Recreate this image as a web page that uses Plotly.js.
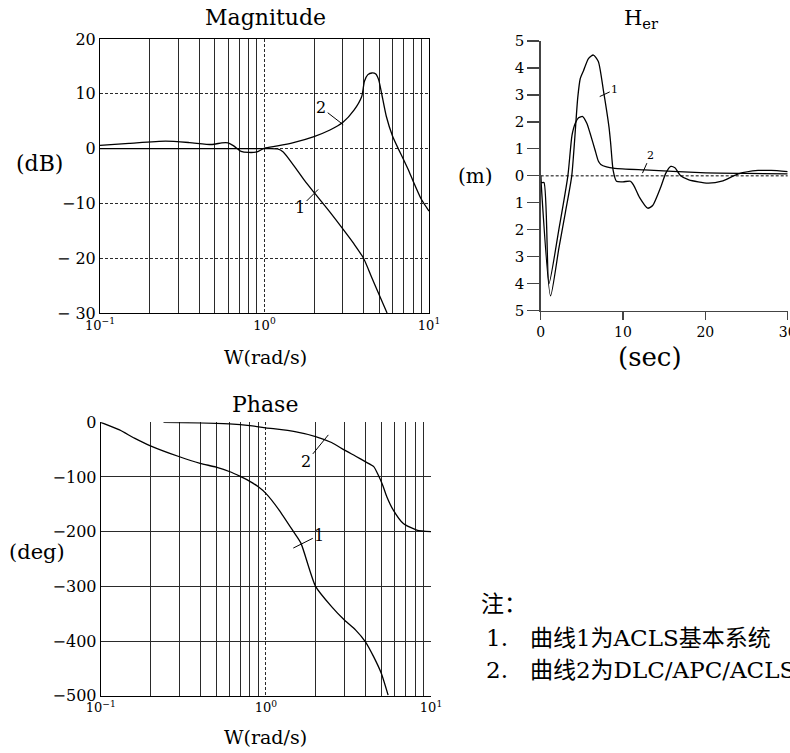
<!DOCTYPE html>
<html>
<head>
<meta charset="utf-8">
<script src="https://cdn.plot.ly/plotly-3.0.1.min.js"></script>
<style>html,body{margin:0;padding:0;background:#fff;}#chart{width:790px;height:753px;}</style>
</head>
<body>
<div id="chart"></div>
<script>
// ---------- Magnitude (dB) ----------
const magW1 = [0.1, 0.3, 0.6, 1.0, 1.2, 1.3, 1.5, 1.75, 2.0, 2.5, 3.0, 3.5, 4.0, 4.5, 5.0, 5.56];
const magDb1 = [0, 0, 0, 0, -0.05, -0.6, -3.0, -5.8, -8.0, -11.6, -14.7, -17.4, -20.0, -23.6, -26.8, -30.0];
const magW2 = [0.1, 0.15, 0.25, 0.35, 0.48, 0.55, 0.6, 0.65, 0.72, 0.8, 0.9, 1.0, 1.2, 1.5, 2.0, 2.5, 3.0, 3.5, 3.9, 4.05, 4.25, 4.5, 4.75, 4.95, 5.15, 5.5, 6.0, 6.5, 7.0, 7.6, 8.0, 9.0, 10.0];
const magDb2 = [0.6, 0.95, 1.35, 1.1, 0.75, 1.05, 1.05, 0.5, -0.5, -0.7, -0.6, 0.1, 0.5, 1.1, 2.2, 3.4, 4.8, 7.0, 9.5, 12.3, 13.5, 13.8, 13.6, 12.5, 10.1, 5.9, 2.3, 0.0, -2.0, -4.3, -5.9, -9.3, -11.4];

// ---------- Phase (deg) ----------
const phW1 = [0.1, 0.13, 0.16, 0.2, 0.3, 0.4, 0.5, 0.6, 0.7, 0.8, 0.9, 1.0, 1.2, 1.47, 1.63, 2.0, 2.5, 3.0, 3.5, 4.0, 4.5, 5.0, 5.5];
const phDeg1 = [0, -14, -29, -43, -63, -75, -82, -90, -99, -108, -118, -130, -160, -200, -221, -300, -337, -362, -380, -401, -429, -459, -499];
const phW2 = [0.24, 0.4, 0.6, 0.8, 1.0, 1.5, 2.0, 2.5, 3.0, 3.5, 4.0, 4.5, 4.8, 5.1, 5.4, 5.9, 6.8, 8.2, 10.0];
const phDeg2 = [0, -1, -3, -6, -10, -17, -26, -37, -51, -62, -72, -81, -97, -115, -136, -160, -185, -197, -200];

// ---------- H_er (m) vs time (sec) ----------
const herT1 = [0, 1.2, 2.2, 3.0, 3.77, 4.5, 4.8, 5.2, 5.8, 6.4, 7.0, 7.6, 8.3, 8.5, 8.8, 9.2, 10.0, 10.9, 11.3, 12.0, 13.0, 13.6, 14.6, 15.2, 15.8, 16.3, 17.0, 18.0, 20.3, 22.0, 24.0, 26.4, 28.0, 30.0];
const herY1 = [0, -4.45, -2.7, -1.35, 0, 2.9, 3.6, 3.9, 4.35, 4.48, 4.24, 3.2, 1.8, 1.2, 0.2, -0.2, -0.22, -0.2, -0.35, -0.8, -1.2, -1.1, -0.4, 0.1, 0.35, 0.3, 0, -0.15, -0.27, -0.2, 0.07, 0.2, 0.2, 0.16];
const herT2 = [0, 0.05, 0.4, 1.0, 2.2, 3.3, 3.8, 4.2, 4.6, 5.1, 5.6, 6.0, 6.6, 7.0, 7.3, 8.0, 9.0, 12.6, 19.4, 25.0, 30.0];
const herY2 = [0, -0.25, -0.25, -4.0, -2.0, 0, 1.5, 1.95, 2.15, 2.2, 1.95, 1.58, 0.96, 0.55, 0.42, 0.33, 0.28, 0.22, 0.12, 0.09, 0.07];

// ---------- tick labels ----------
const logTickVals = [0.1, 1, 10];
const logTickText = ['10<sup>\u22121</sup>', '10<sup>0</sup>', '10<sup>1</sup>'];
const logMinorVals = [0.2, 0.3, 0.4, 0.5, 0.6, 0.7, 0.8, 0.9, 2, 3, 4, 5, 6, 7, 8, 9];
const magTickVals = [-30, -20, -10, 0, 10, 20];
const magTickText = ['\u2212 30', '\u2212 20', '\u221210', '0', '10', '20'];
const phTickVals = [-500, -400, -300, -200, -100, 0];
const phTickText = ['\u2212500', '\u2212400', '\u2212300', '\u2212200', '\u2212100', '0'];
const herTickVals = [-5, -4, -3, -2, -1, 0, 1, 2, 3, 4, 5];
const herTickText = ['5', '4', '3', '2', '1', '0', '1', '2', '3', '4', '5'];
const herXTickVals = [0, 10, 20, 30];

const W = 790, H = 753;
const px = v => v / W;
const py = v => 1 - v / H;
const FONT = "'DejaVu Serif', serif";
const lineStyle = {color: '#000', width: 1.3, shape: 'spline', smoothing: 0.6};

const traces = [
  {x: magW1, y: magDb1, xaxis: 'x', yaxis: 'y', mode: 'lines', line: lineStyle, name: '1'},
  {x: magW2, y: magDb2, xaxis: 'x', yaxis: 'y', mode: 'lines', line: lineStyle, name: '2'},
  {x: herT1, y: herY1, xaxis: 'x2', yaxis: 'y2', mode: 'lines', line: lineStyle, name: '1'},
  {x: herT2, y: herY2, xaxis: 'x2', yaxis: 'y2', mode: 'lines', line: lineStyle, name: '2'},
  {x: phW1, y: phDeg1, xaxis: 'x3', yaxis: 'y3', mode: 'lines', line: lineStyle, name: '1'},
  {x: phW2, y: phDeg2, xaxis: 'x3', yaxis: 'y3', mode: 'lines', line: lineStyle, name: '2'}
];

const gridC = '#2a2a2a';
const logAxis = (domain, anchor, majorDash) => ({
  type: 'log', range: [-1, 1], domain: domain, anchor: anchor,
  tickmode: 'array', tickvals: logTickVals, ticktext: logTickText,
  showgrid: true, gridcolor: gridC, gridwidth: 1, griddash: majorDash,
  ticks: '', zeroline: false, showline: true, linecolor: '#000', linewidth: 1,
  tickfont: {family: FONT, size: 13, color: '#000'},
  minor: {tickmode: 'array', tickvals: logMinorVals, showgrid: true, gridcolor: gridC, gridwidth: 1, griddash: 'solid', ticks: ''}
});

const layout = {
  width: W, height: H,
  margin: {l: 0, r: 0, t: 0, b: 0},
  paper_bgcolor: '#fff', plot_bgcolor: 'rgba(0,0,0,0)',
  showlegend: false,
  font: {family: FONT, color: '#000'},
  xaxis: Object.assign(logAxis([px(100), px(429)], 'y', '3px,2px'), {mirror: true}),
  yaxis: {
    domain: [py(313), py(39)], anchor: 'x', range: [-30, 20],
    tickmode: 'array', tickvals: magTickVals, ticktext: magTickText,
    showgrid: true, gridcolor: gridC, gridwidth: 1, griddash: '3px,2px',
    zeroline: false, showline: true, mirror: true, linecolor: '#000', linewidth: 1,
    ticks: '', tickfont: {family: FONT, size: 16, color: '#000'}
  },
  xaxis2: {
    domain: [px(540.7), px(787.7)], anchor: 'y2', range: [0, 30.001],
    tickmode: 'array', tickvals: herXTickVals, ticklabeloverflow: 'allow',
    showgrid: false, zeroline: false, showline: true, linecolor: '#444', linewidth: 1.3,
    ticks: 'outside', ticklen: 8, tickcolor: '#444', tickwidth: 1.3,
    tickfont: {family: FONT, size: 14, color: '#000'}
  },
  yaxis2: {
    domain: [py(310.7), py(41)], anchor: 'x2', range: [-5, 5],
    tickmode: 'array', tickvals: herTickVals, ticktext: herTickText,
    showgrid: false, zeroline: false, showline: true, linecolor: '#444', linewidth: 1.3,
    ticks: 'outside', ticklen: 12, tickcolor: '#444', tickwidth: 1.2,
    tickfont: {family: FONT, size: 15, color: '#000'}
  },
  xaxis3: Object.assign(logAxis([px(100.7), px(431)], 'y3', '3px,2px'), {mirror: false}),
  yaxis3: {
    domain: [py(695.7), py(422.3)], anchor: 'x3', range: [-500, 0],
    tickmode: 'array', tickvals: phTickVals, ticktext: phTickText,
    showgrid: true, gridcolor: gridC, gridwidth: 1, griddash: 'solid',
    zeroline: false, showline: true, mirror: false, linecolor: '#000', linewidth: 1,
    ticks: '', tickfont: {family: FONT, size: 16, color: '#000'}
  },
  shapes: [
    {type: 'line', xref: 'x2 domain', x0: 0, x1: 1, yref: 'y2', y0: 0, y1: 0,
     line: {color: '#000', width: 1, dash: '3px,2px'}, layer: 'below'}
  ],
  annotations: []
};

const A = layout.annotations;
const txt = (text, x, y, size, extra) => A.push(Object.assign({
  text: text, xref: 'paper', yref: 'paper', x: px(x), y: py(y),
  xanchor: 'center', yanchor: 'middle', showarrow: false,
  font: {family: FONT, size: size, color: '#000'}
}, extra || {}));

// titles & axis labels
txt('Magnitude', 265, 18, 22);
txt('H<sub>er</sub>', 641, 19, 21);
txt('Phase', 265, 404, 22);
txt('(dB)', 39, 163, 22);
txt('(m)', 475, 176, 20);
txt('(deg)', 37, 552, 21);
txt('W(rad/s)', 265, 357, 19);
txt('W(rad/s)', 265, 737, 19);
txt('(sec)', 650, 357, 26);

// notes
const NOTE_FONT = "'DejaVu Serif', 'Noto Sans CJK SC', serif";
const nf = {family: NOTE_FONT, size: 23, color: '#000'};
txt('注：', 479, 604, 23, {xanchor: 'left', font: nf});
txt('1.\u00a0\u00a0\u00a0曲线1为ACLS基本系统', 484, 638, 23, {xanchor: 'left', font: nf});
txt('2.\u00a0\u00a0\u00a0曲线2为DLC/APC/ACLS系统', 484, 670, 23, {xanchor: 'left', font: nf});

// curve labels with leader lines
const lab = (text, xref, yref, x, y, ax, ay, size) => A.push({
  text: text, xref: xref, yref: yref, x: x, y: y, ax: ax, ay: ay,
  showarrow: true, arrowhead: 0, arrowwidth: 1, arrowcolor: '#000', standoff: 0,
  font: {family: FONT, size: size, color: '#000'}
});
lab('2', 'x', 'y', Math.log10(3.01), 4.36, -22, -17, 16);
lab('1', 'x', 'y', Math.log10(2.12), -7.45, -18, 18, 16);
lab('2', 'x3', 'y3', Math.log10(2.39), -23, -22, 27, 16);
lab('1', 'x3', 'y3', Math.log10(1.466), -230, 26, -13, 16);
lab('1', 'x2', 'y2', 7.17, 2.94, 15, -7, 11);
lab('2', 'x2', 'y2', 12.36, 0.1, 8, -18, 11);

Plotly.newPlot('chart', traces, layout, {staticPlot: true, displayModeBar: false});
</script>
</body>
</html>
